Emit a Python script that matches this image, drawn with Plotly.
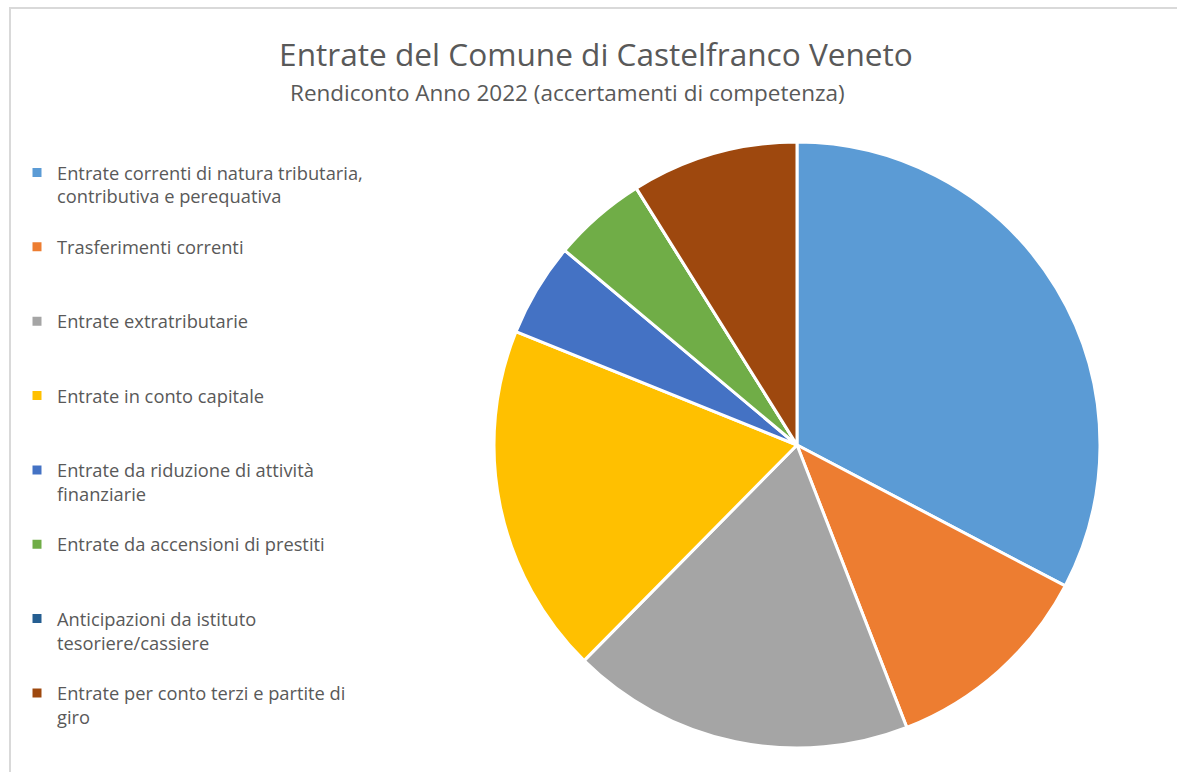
import plotly.graph_objects as go

labels = [
    "Entrate correnti di natura tributaria,<br>contributiva e perequativa",
    "Trasferimenti correnti",
    "Entrate extratributarie",
    "Entrate in conto capitale",
    "Entrate da riduzione di attività<br>finanziarie",
    "Entrate da accensioni di prestiti",
    "Anticipazioni da istituto<br>tesoriere/cassiere",
    "Entrate per conto terzi e partite di<br>giro",
]
values = [32.7, 11.4, 18.3, 18.7, 5.0, 5.0, 0.0, 8.9]
colors = ["#5B9BD5", "#ED7D31", "#A5A5A5", "#FFC000", "#4472C4", "#70AD47", "#255E91", "#9E480E"]

title_text = "Entrate del Comune di Castelfranco Veneto"
subtitle_text = "Rendiconto Anno 2022 (accertamenti di competenza)"

FONT = "Open Sans"
TXT = "#595959"

# pad every legend label to three lines so entries are evenly spaced
def pad(lbl, n=3):
    k = lbl.count("<br>") + 1
    return lbl + "<br>\u00a0" * (n - k)

legend_labels = [pad(l) for l in labels]

W, H = 1177, 772
cx, cy, r = 797, 445, 303

fig = go.Figure(go.Pie(
    labels=legend_labels,
    values=values,
    sort=False,
    direction="clockwise",
    rotation=0,
    marker=dict(colors=colors, line=dict(color="white", width=3)),
    textinfo="none",
    hoverinfo="label+percent",
    domain=dict(x=[(cx - r) / W, (cx + r) / W], y=[1 - (cy + r) / H, 1 - (cy - r) / H]),
))

fig.update_layout(
    width=W, height=H,
    margin=dict(l=0, r=0, t=0, b=0),
    paper_bgcolor="white",
    font=dict(family=FONT, color=TXT),
    title=dict(text=title_text, x=596 / W, xanchor="center", y=1 - 55 / H, yanchor="middle",
               font=dict(size=31.6, color=TXT, family=FONT)),
    annotations=[dict(text=subtitle_text, x=567 / W, y=1 - 93 / H, xref="paper", yref="paper",
                      xanchor="center", yanchor="middle", showarrow=False,
                      font=dict(size=22.5, color=TXT, family=FONT))],
    legend=dict(x=17 / W, xanchor="left", y=1 - 154 / H, yanchor="top",
                font=dict(size=18.3, color=TXT, family=FONT), valign="top",
                bgcolor="rgba(0,0,0,0)", traceorder="normal"),
    shapes=[dict(type="rect", xref="paper", yref="paper", x0=10 / W, x1=1.02, y0=-0.02, y1=1 - 8 / H,
                 line=dict(color="#D9D9D9", width=2), layer="below")],
)

fig.write_html("out.html", config={"displayModeBar": False},
               post_script="document.body.style.margin='0';")
